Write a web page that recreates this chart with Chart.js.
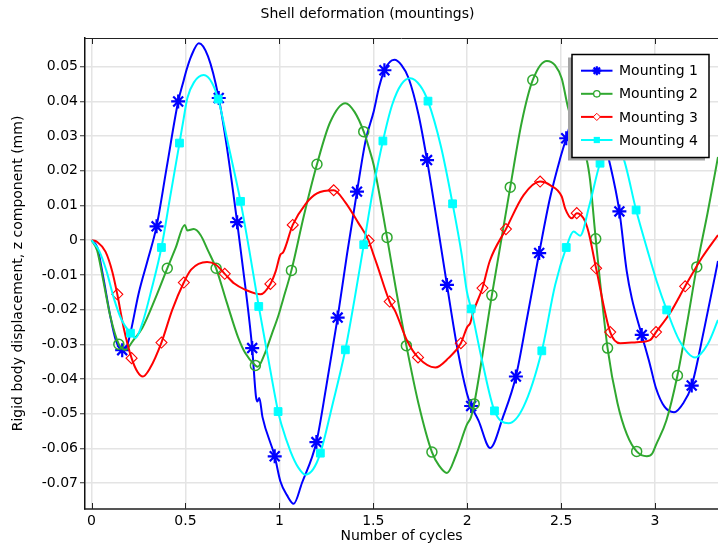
<!DOCTYPE html>
<html><head><meta charset="utf-8">
<script src="https://cdn.jsdelivr.net/npm/chart.js@4.4.1/dist/chart.umd.min.js"></script>
<style>html,body{margin:0;padding:0;background:#fff;}canvas{display:block;}</style>
</head><body>
<canvas id="c" width="718" height="548"></canvas>
<script>
// ---- tick labels ----
const xTicks = [0, 0.5, 1, 1.5, 2, 2.5, 3];
const xTickLabels = ['0', '0.5', '1', '1.5', '2', '2.5', '3'];
const yTicks = [0.05, 0.04, 0.03, 0.02, 0.01, 0, -0.01, -0.02, -0.03, -0.04, -0.05, -0.06, -0.07];
const yTickLabels = ['0.05', '0.04', '0.03', '0.02', '0.01', '0', '-0.01', '-0.02', '-0.03', '-0.04', '-0.05', '-0.06', '-0.07'];
const seriesNames = ['Mounting 1', 'Mounting 2', 'Mounting 3', 'Mounting 4'];

// ---- Mounting 1 ----
const m1CurveX = [0,0.03,0.06,0.1,0.13,0.185,0.21,0.25,0.3,0.4,0.49,0.505,0.53,0.571,0.62,0.72,0.82,0.875,0.883,0.893,0.91,1.005,1.04,1.076,1.12,1.25,1.36,1.46,1.502,1.53,1.612,1.65,1.688,1.741,1.84,1.95,1.998,2.06,2.122,2.19,2.32,2.44,2.495,2.58,2.63,2.69,2.752,2.849,2.876,2.973,3.005,3.05,3.101,3.15,3.26,3.335];
const m1CurveY = [0,-0.002,-0.01,-0.022,-0.029,-0.031,-0.026,-0.0155,-0.0055,0.021,0.046,0.049,0.053,0.0568,0.053,0.027,-0.014,-0.045,-0.0465,-0.0455,-0.051,-0.0695,-0.0735,-0.076,-0.070,-0.042,-0.004,0.029,0.0371,0.044,0.052,0.0505,0.0467,0.0361,0.005,-0.032,-0.0441,-0.052,-0.0599,-0.051,-0.022,0.012,0.0236,0.039,0.043,0.037,0.0238,-0.0089,-0.0167,-0.0359,-0.0427,-0.048,-0.0496,-0.047,-0.026,-0.006];
const m1MarkX = [0.163,0.346,0.461,0.677,0.775,0.855,0.975,1.197,1.31,1.413,1.559,1.786,1.892,2.021,2.259,2.383,2.527,2.81,2.929,3.195];
const m1MarkY = [-0.0317,0.004,0.040,0.041,0.0052,-0.0311,-0.0623,-0.0582,-0.0223,0.014,0.049,0.0231,-0.0129,-0.0478,-0.0393,-0.0037,0.0294,0.0083,-0.0273,-0.0419];

// ---- Mounting 2 ----
const m2CurveX = [0,0.03,0.06,0.1,0.181,0.22,0.27,0.34,0.447,0.496,0.51,0.544,0.58,0.62,0.72,0.78,0.819,0.885,0.92,0.96,0.996,1.02,1.13,1.27,1.351,1.40,1.48,1.502,1.62,1.74,1.85,1.892,1.94,1.998,2.02,2.29,2.424,2.468,2.503,2.536,2.58,2.637,2.654,2.80,2.85,2.956,2.985,3.005,3.06,3.17,3.28,3.335];
const m2CurveY = [0,-0.003,-0.011,-0.022,-0.0316,-0.029,-0.0253,-0.0167,-0.0023,0.0044,0.0028,0.0032,0.0015,-0.003,-0.018,-0.028,-0.0326,-0.0365,-0.033,-0.027,-0.0215,-0.017,0.007,0.034,0.0395,0.037,0.026,0.0217,-0.014,-0.047,-0.065,-0.0671,-0.062,-0.0532,-0.051,0.034,0.0517,0.0504,0.0466,0.0384,0.031,0.023,0.0173,-0.047,-0.056,-0.0623,-0.0615,-0.059,-0.052,-0.024,0.008,0.024];
const m2MarkX = [0.145,0.403,0.663,0.872,1.064,1.2,1.449,1.573,1.676,1.812,2.037,2.131,2.229,2.349,2.684,2.747,2.902,3.119,3.222];
const m2MarkY = [-0.030,-0.0081,-0.0081,-0.0361,-0.0087,0.0219,0.0313,0.0008,-0.0304,-0.0611,-0.0472,-0.0159,0.0153,0.0462,0.0004,-0.0311,-0.0609,-0.039,-0.0077];

// ---- Mounting 3 ----
const m3CurveX = [0,0.03,0.074,0.11,0.17,0.245,0.273,0.31,0.43,0.53,0.615,0.66,0.76,0.819,0.899,0.98,1.005,1.02,1.14,1.20,1.35,1.42,1.50,1.52,1.617,1.68,1.83,1.90,2.0,2.016,2.03,2.12,2.30,2.441,2.503,2.521,2.557,2.619,2.645,2.814,2.902,2.973,3.08,3.25,3.335];
const m3CurveY = [0,-0.0005,-0.0033,-0.009,-0.025,-0.038,-0.0393,-0.037,-0.020,-0.0085,-0.0063,-0.007,-0.0125,-0.0143,-0.0156,-0.009,-0.0042,-0.0035,0.0105,0.0135,0.011,0.005,-0.004,-0.0071,-0.0205,-0.029,-0.0367,-0.034,-0.025,-0.0239,-0.021,-0.006,0.013,0.0159,0.0126,0.0092,0.0063,0.0063,0.0025,-0.0297,-0.0294,-0.0288,-0.021,-0.005,0.0015];
const m3MarkX = [0.137,0.213,0.372,0.491,0.709,0.952,1.071,1.289,1.475,1.587,1.738,1.966,2.081,2.206,2.388,2.583,2.686,2.761,3.005,3.16];
const m3MarkY = [-0.0156,-0.034,-0.0295,-0.0122,-0.0097,-0.0126,0.0044,0.0144,-0.0001,-0.0177,-0.0338,-0.0297,-0.0138,0.0032,0.0169,0.0078,-0.0081,-0.0265,-0.0265,-0.0133];

// ---- Mounting 4 ----
const m4CurveX = [0,0.04,0.08,0.12,0.16,0.234,0.27,0.32,0.42,0.49,0.51,0.545,0.597,0.64,0.73,0.84,0.94,1.01,1.06,1.1,1.138,1.18,1.28,1.40,1.5,1.6,1.65,1.697,1.75,1.86,1.97,1.998,2.08,2.22,2.3,2.468,2.566,2.601,2.65,2.77,2.832,2.96,3.009,3.13,3.213,3.28,3.335];
const m4CurveY = [0,-0.003,-0.009,-0.017,-0.023,-0.0282,-0.024,-0.014,0.013,0.035,0.041,0.0455,0.0476,0.0455,0.027,-0.003,-0.034,-0.053,-0.061,-0.0655,-0.0676,-0.066,-0.048,-0.017,0.015,0.039,0.045,0.0467,0.0445,0.027,-0.004,-0.0148,-0.035,-0.0528,-0.048,-0.0129,0.0025,0.0013,0.010,0.029,0.0236,-0.003,-0.0119,-0.029,-0.0338,-0.030,-0.023];
const m4MarkX = [0.207,0.372,0.468,0.674,0.793,0.89,0.993,1.218,1.351,1.449,1.551,1.791,1.922,2.021,2.145,2.397,2.527,2.707,2.899,3.062];
const m4MarkY = [-0.0268,-0.0021,0.028,0.0407,0.0112,-0.0191,-0.0494,-0.0614,-0.0316,-0.0013,0.0286,0.0401,0.0105,-0.0198,-0.0492,-0.0319,-0.0021,0.0222,0.0087,-0.0201];

// ---- styling ----
const styles = [
  {color:'#0000ff', point:'star', r:7, bw:2.2, fill:'#0000ff', lr:4.5, lbw:2.2},
  {color:'#30a830', point:'circle', r:5, bw:1.5, fill:'rgba(0,0,0,0)', lr:3.2, lbw:1.3},
  {color:'#ff0000', point:'rectRot', r:5.5, bw:1.1, fill:'rgba(0,0,0,0)', lr:3.6, lbw:1},
  {color:'#00ffff', point:'rect', r:5.5, bw:1, fill:'#00ffff', lr:4.4, lbw:1}
];
const curves = [[m1CurveX,m1CurveY,m1MarkX,m1MarkY],[m2CurveX,m2CurveY,m2MarkX,m2MarkY],[m3CurveX,m3CurveY,m3MarkX,m3MarkY],[m4CurveX,m4CurveY,m4MarkX,m4MarkY]];

function pts(xs, ys){ return xs.map((x,i)=>({x:x, y:ys[i]})); }

const datasets = [];
curves.forEach((c, i) => {
  const st = styles[i];
  const marks = pts(c[2], c[3]);
  const line = pts(c[0], c[1]).concat(marks).sort((a,b)=>a.x-b.x);
  datasets.push({
    label: seriesNames[i], data: line, showLine: true, borderColor: st.color, borderWidth: 2,
    pointRadius: 0, pointHoverRadius: 0, cubicInterpolationMode: 'monotone', order: 8 - 2*i, fill: false
  });
  datasets.push({
    label: seriesNames[i] + ' markers', data: marks, showLine: false, pointStyle: st.point,
    pointRadius: st.r, pointBorderWidth: st.bw, pointBorderColor: st.color, pointBackgroundColor: st.fill,
    borderColor: st.color, backgroundColor: st.fill, order: 7 - 2*i
  });
});

function drawMark(ctx, st, x, y){
  const r = st.lr;
  ctx.save();
  ctx.strokeStyle = st.color; ctx.fillStyle = st.color; ctx.lineWidth = st.lbw;
  ctx.beginPath();
  if (st.point === 'star') {
    ctx.moveTo(x - r, y); ctx.lineTo(x + r, y);
    ctx.moveTo(x, y - r); ctx.lineTo(x, y + r);
    const d = r * Math.SQRT1_2;
    ctx.moveTo(x - d, y - d); ctx.lineTo(x + d, y + d);
    ctx.moveTo(x - d, y + d); ctx.lineTo(x + d, y - d);
    ctx.stroke();
  } else if (st.point === 'circle') {
    ctx.fillStyle = '#fff';
    ctx.arc(x, y, r, 0, Math.PI*2); ctx.fill(); ctx.stroke();
  } else if (st.point === 'rectRot') {
    ctx.fillStyle = '#fff';
    ctx.moveTo(x, y - r); ctx.lineTo(x + r, y); ctx.lineTo(x, y + r); ctx.lineTo(x - r, y); ctx.closePath();
    ctx.fill(); ctx.stroke();
  } else {
    const h = r * Math.SQRT1_2;
    ctx.rect(x - h, y - h, 2*h, 2*h); ctx.fill();
  }
  ctx.restore();
}

const framePlugin = {
  id: 'frame',
  afterDraw(chart){
    const {ctx, chartArea: a, scales: {x}} = chart;
    ctx.save();
    // title
    ctx.fillStyle = '#000';
    ctx.font = '14px "DejaVu Sans"';
    ctx.textAlign = 'center'; ctx.textBaseline = 'middle';
    ctx.fillText('Shell deformation (mountings)', 367.5, 14);
    // top border + x ticks
    ctx.strokeStyle = '#222'; ctx.lineWidth = 1;
    ctx.beginPath();
    ctx.moveTo(a.left, a.top + 0.5); ctx.lineTo(a.right, a.top + 0.5);
    xTicks.forEach(v => {
      const px = Math.round(x.getPixelForValue(v)) + 0.5;
      ctx.moveTo(px, a.top); ctx.lineTo(px, a.top + 6);
      ctx.moveTo(px, a.bottom); ctx.lineTo(px, a.bottom - 6);
    });
    ctx.stroke();
    // legend
    const L = 572, T = 54.5, W = 137, H = 103;
    ctx.fillStyle = '#a6a6a6';
    ctx.fillRect(L - 4, T + 3, W, H);
    ctx.fillStyle = '#fff';
    ctx.fillRect(L, T, W, H);
    ctx.strokeStyle = '#000'; ctx.lineWidth = 1.5;
    ctx.strokeRect(L, T, W, H);
    ctx.font = '14px "DejaVu Sans"';
    ctx.textAlign = 'left'; ctx.textBaseline = 'middle';
    seriesNames.forEach((name, i) => {
      const st = styles[i];
      const y = 70.7 + i * 23.1;
      ctx.strokeStyle = st.color; ctx.lineWidth = 2;
      ctx.beginPath(); ctx.moveTo(581, y); ctx.lineTo(612.5, y); ctx.stroke();
      drawMark(ctx, st, 596.8, y);
      ctx.fillStyle = '#000';
      ctx.fillText(name, 619, y + 1);
    });
    ctx.restore();
  }
};

Chart.defaults.font.family = '"DejaVu Sans", sans-serif';
Chart.defaults.font.size = 14;
Chart.defaults.color = '#000';

new Chart(document.getElementById('c'), {
  type: 'scatter',
  data: { datasets },
  options: {
    responsive: false, animation: false, devicePixelRatio: 1,
    layout: { autoPadding: false, padding: { top: 38, right: 0, left: 0, bottom: 0 } },
    plugins: { legend: { display: false }, tooltip: { enabled: false }, title: { display: false } },
    scales: {
      x: {
        type: 'linear', min: -0.035, max: 3.335,
        afterBuildTicks: s => { s.ticks = xTicks.map(v => ({value: v})); },
        afterFit: s => { s.height = 39; s.paddingLeft = 0; s.paddingRight = 0; },
        ticks: { padding: 4, maxRotation: 0, autoSkip: false, callback: (v, i) => xTickLabels[i] },
        grid: { color: '#e4e4e4', lineWidth: 1.5, drawTicks: false },
        border: { color: '#555', width: 2 },
        title: { display: true, text: 'Number of cycles', padding: { top: 0, bottom: 3 } }
      },
      y: {
        type: 'linear', min: -0.0775, max: 0.0583,
        afterBuildTicks: s => { s.ticks = yTicks.map(v => ({value: v})); },
        afterFit: s => { s.width = 85; s.paddingTop = 0; s.paddingBottom = 0; },
        ticks: { padding: 2, autoSkip: false, callback: (v, i) => yTickLabels[i] },
        grid: { color: '#e4e4e4', lineWidth: 1.5, drawTicks: true, tickLength: 5, tickColor: '#333', tickWidth: 1 },
        border: { color: '#111', width: 1.5 },
        title: { display: true, text: 'Rigid body displacement, z component (mm)', padding: { top: 10, bottom: 0 } }
      }
    }
  },
  plugins: [framePlugin]
});
</script>
</body></html>
